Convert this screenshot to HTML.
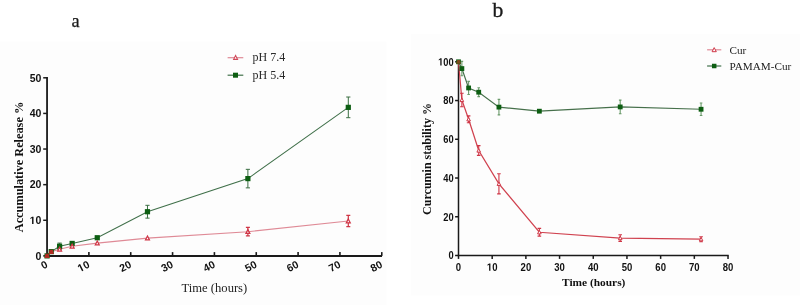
<!DOCTYPE html><html><head><meta charset="utf-8"><style>
html,body{margin:0;padding:0;background:#fff;width:800px;height:305px;overflow:hidden}
svg{display:block;filter:blur(0.3px)}
.s{font-family:"Liberation Sans",sans-serif;font-weight:bold}
.t{font-family:"Liberation Serif",serif}
</style></head><body>
<svg width="800" height="305" viewBox="0 0 800 305">
<rect x="0" y="41.5" width="386.5" height="263.5" fill="#fdfdfd"/>
<rect x="411" y="34" width="389" height="261.6" fill="#fdfdfd"/>
<text class="t" x="71.5" y="26.6" font-size="18.3" fill="#1a1a1a" stroke="#1a1a1a" stroke-width="0.25">a</text>
<text class="t" x="492.6" y="16.6" font-size="21.6" fill="#1a1a1a" stroke="#1a1a1a" stroke-width="0.35">b</text>
<g stroke="#1a1a1a" fill="none">
<line x1="47.05" y1="77.10000000000001" x2="47.05" y2="256.9" stroke-width="1.8"/>
<line x1="46.15" y1="256.0" x2="382.02000000000004" y2="256.0" stroke-width="1.85"/>
<line x1="43.2" y1="255.90" x2="47.05" y2="255.90" stroke-width="1.5"/>
<line x1="43.2" y1="220.28" x2="47.05" y2="220.28" stroke-width="1.5"/>
<line x1="43.2" y1="184.66" x2="47.05" y2="184.66" stroke-width="1.5"/>
<line x1="43.2" y1="149.04" x2="47.05" y2="149.04" stroke-width="1.5"/>
<line x1="43.2" y1="113.42" x2="47.05" y2="113.42" stroke-width="1.5"/>
<line x1="43.2" y1="77.80" x2="47.05" y2="77.80" stroke-width="1.5"/>
<line x1="88.89" y1="252.1" x2="88.89" y2="255.9" stroke-width="1.6"/>
<line x1="130.73" y1="252.1" x2="130.73" y2="255.9" stroke-width="1.6"/>
<line x1="172.57" y1="252.1" x2="172.57" y2="255.9" stroke-width="1.6"/>
<line x1="214.41" y1="252.1" x2="214.41" y2="255.9" stroke-width="1.6"/>
<line x1="256.25" y1="252.1" x2="256.25" y2="255.9" stroke-width="1.6"/>
<line x1="298.09" y1="252.1" x2="298.09" y2="255.9" stroke-width="1.6"/>
<line x1="339.93" y1="252.1" x2="339.93" y2="255.9" stroke-width="1.6"/>
<line x1="381.77" y1="252.1" x2="381.77" y2="255.9" stroke-width="1.6"/>
</g>
<g transform="translate(41.3,259.60)" fill="#111"><text class="s" x="-5.840" y="0" font-size="10.5">0</text></g>
<g transform="translate(41.3,223.98)" fill="#111"><path d="M478,0L478,1170L140,959L140,1180L493,1409L759,1409L759,0Z" transform="translate(-11.679,0) scale(0.00513,-0.00513)"/><text class="s" x="-5.840" y="0" font-size="10.5">0</text></g>
<g transform="translate(41.3,188.36)" fill="#111"><text class="s" x="-11.679" y="0" font-size="10.5">2</text><text class="s" x="-5.840" y="0" font-size="10.5">0</text></g>
<g transform="translate(41.3,152.74)" fill="#111"><text class="s" x="-11.679" y="0" font-size="10.5">3</text><text class="s" x="-5.840" y="0" font-size="10.5">0</text></g>
<g transform="translate(41.3,117.12)" fill="#111"><text class="s" x="-11.679" y="0" font-size="10.5">4</text><text class="s" x="-5.840" y="0" font-size="10.5">0</text></g>
<g transform="translate(41.3,81.50)" fill="#111"><text class="s" x="-11.679" y="0" font-size="10.5">5</text><text class="s" x="-5.840" y="0" font-size="10.5">0</text></g>
<g transform="translate(48.55,266.90) rotate(-27)" fill="#111"><text class="s" x="-5.895" y="0" font-size="10.6">0</text></g>
<g transform="translate(90.39,266.90) rotate(-27)" fill="#111"><path d="M478,0L478,1170L140,959L140,1180L493,1409L759,1409L759,0Z" transform="translate(-11.790,0) scale(0.00518,-0.00518)"/><text class="s" x="-5.895" y="0" font-size="10.6">0</text></g>
<g transform="translate(132.23,266.90) rotate(-27)" fill="#111"><text class="s" x="-11.790" y="0" font-size="10.6">2</text><text class="s" x="-5.895" y="0" font-size="10.6">0</text></g>
<g transform="translate(174.07,266.90) rotate(-27)" fill="#111"><text class="s" x="-11.790" y="0" font-size="10.6">3</text><text class="s" x="-5.895" y="0" font-size="10.6">0</text></g>
<g transform="translate(215.91,266.90) rotate(-27)" fill="#111"><text class="s" x="-11.790" y="0" font-size="10.6">4</text><text class="s" x="-5.895" y="0" font-size="10.6">0</text></g>
<g transform="translate(257.75,266.90) rotate(-27)" fill="#111"><text class="s" x="-11.790" y="0" font-size="10.6">5</text><text class="s" x="-5.895" y="0" font-size="10.6">0</text></g>
<g transform="translate(299.59,266.90) rotate(-27)" fill="#111"><text class="s" x="-11.790" y="0" font-size="10.6">6</text><text class="s" x="-5.895" y="0" font-size="10.6">0</text></g>
<g transform="translate(341.43,266.90) rotate(-27)" fill="#111"><text class="s" x="-11.790" y="0" font-size="10.6">7</text><text class="s" x="-5.895" y="0" font-size="10.6">0</text></g>
<g transform="translate(383.27,266.90) rotate(-27)" fill="#111"><text class="s" x="-11.790" y="0" font-size="10.6">8</text><text class="s" x="-5.895" y="0" font-size="10.6">0</text></g>
<text class="t" x="214.4" y="292.2" font-size="12.6" text-anchor="middle" fill="#222">Time (hours)</text>
<text class="t" font-weight="bold" font-size="12.3" text-anchor="middle" fill="#111" transform="translate(22.6,167) rotate(-90)">Accumulative Release %</text>
<polyline points="47.05,255.90 51.23,251.80 59.60,249.31 72.15,246.28 97.26,243.08 147.47,238.09 247.88,231.68 348.30,220.99" fill="none" stroke="#df8a96" stroke-width="1.1"/>
<polyline points="47.05,255.90 51.23,251.63 59.60,246.28 72.15,243.43 97.26,237.73 147.47,211.73 247.88,178.60 348.30,107.36" fill="none" stroke="#40704a" stroke-width="1.05"/>
<path d="M59.60,243.08V249.49M57.50,243.08H61.70M57.50,249.49H61.70" stroke="#3a6e42" stroke-width="1.0" fill="none"/>
<path d="M147.47,205.32V218.14M145.37,205.32H149.57M145.37,218.14H149.57" stroke="#3a6e42" stroke-width="1.0" fill="none"/>
<path d="M247.88,169.34V187.87M245.78,169.34H249.98M245.78,187.87H249.98" stroke="#3a6e42" stroke-width="1.0" fill="none"/>
<path d="M348.30,97.03V117.69M346.20,97.03H350.40M346.20,117.69H350.40" stroke="#3a6e42" stroke-width="1.0" fill="none"/>
<path d="M247.88,227.40V235.95M245.88,227.40H249.88M245.88,235.95H249.88" stroke="#cf3545" stroke-width="1.2" fill="none"/>
<path d="M348.30,215.29V226.69M346.30,215.29H350.30M346.30,226.69H350.30" stroke="#cf3545" stroke-width="1.2" fill="none"/>
<rect x="44.45" y="253.30" width="5.2" height="5.2" fill="#0d5e12"/>
<rect x="48.63" y="249.03" width="5.2" height="5.2" fill="#0d5e12"/>
<rect x="57.00" y="243.68" width="5.2" height="5.2" fill="#0d5e12"/>
<rect x="69.55" y="240.83" width="5.2" height="5.2" fill="#0d5e12"/>
<rect x="94.66" y="235.13" width="5.2" height="5.2" fill="#0d5e12"/>
<rect x="144.87" y="209.13" width="5.2" height="5.2" fill="#0d5e12"/>
<rect x="245.28" y="176.00" width="5.2" height="5.2" fill="#0d5e12"/>
<rect x="345.70" y="104.76" width="5.2" height="5.2" fill="#0d5e12"/>
<path d="M59.60,247.26L61.55,251.07L57.65,251.07Z" fill="#fff" stroke="#cf3545" stroke-width="1.25"/>
<path d="M72.15,244.23L74.10,248.04L70.20,248.04Z" fill="#fff" stroke="#cf3545" stroke-width="1.25"/>
<path d="M97.26,241.02L99.21,244.83L95.31,244.83Z" fill="#fff" stroke="#cf3545" stroke-width="1.25"/>
<path d="M147.47,236.03L149.42,239.84L145.52,239.84Z" fill="#fff" stroke="#cf3545" stroke-width="1.25"/>
<path d="M247.88,229.62L249.83,233.43L245.93,233.43Z" fill="#fff" stroke="#cf3545" stroke-width="1.25"/>
<path d="M348.30,218.94L350.25,222.75L346.35,222.75Z" fill="#fff" stroke="#cf3545" stroke-width="1.25"/>
<path d="M44.45,258.10L45.45,253.80L48.65,253.80L49.65,258.10Z" fill="#b02a22"/>
<path d="M48.63,254.00L49.63,249.70L52.83,249.70L53.83,254.00Z" fill="#b02a22"/>
<line x1="227.6" y1="57.7" x2="243.3" y2="57.7" stroke="#df8a96" stroke-width="1.2"/>
<path d="M235.60,55.55L237.55,59.36L233.65,59.36Z" fill="#fff" stroke="#d04a5a" stroke-width="1.1"/>
<line x1="227.6" y1="75.2" x2="243.3" y2="75.2" stroke="#40704a" stroke-width="1.2"/>
<rect x="233.00" y="72.70" width="5" height="5" fill="#0d5e12"/>
<text class="t" x="252.5" y="61.1" font-size="12" fill="#2a2a2a">pH 7.4</text>
<text class="t" x="252.5" y="78.6" font-size="12" fill="#2a2a2a">pH 5.4</text>
<g stroke="#1a1a1a" fill="none">
<line x1="458.5" y1="61.29999999999998" x2="458.5" y2="258.9" stroke-width="1.5"/>
<line x1="457.8" y1="255.5" x2="728.72" y2="255.5" stroke-width="1.5"/>
<line x1="455.1" y1="255.50" x2="458.5" y2="255.50" stroke-width="1.5"/>
<line x1="455.1" y1="216.76" x2="458.5" y2="216.76" stroke-width="1.5"/>
<line x1="455.1" y1="178.02" x2="458.5" y2="178.02" stroke-width="1.5"/>
<line x1="455.1" y1="139.28" x2="458.5" y2="139.28" stroke-width="1.5"/>
<line x1="455.1" y1="100.54" x2="458.5" y2="100.54" stroke-width="1.5"/>
<line x1="455.1" y1="61.80" x2="458.5" y2="61.80" stroke-width="1.5"/>
<line x1="492.19" y1="255.5" x2="492.19" y2="258.9" stroke-width="1.5"/>
<line x1="525.88" y1="255.5" x2="525.88" y2="258.9" stroke-width="1.5"/>
<line x1="559.57" y1="255.5" x2="559.57" y2="258.9" stroke-width="1.5"/>
<line x1="593.26" y1="255.5" x2="593.26" y2="258.9" stroke-width="1.5"/>
<line x1="626.95" y1="255.5" x2="626.95" y2="258.9" stroke-width="1.5"/>
<line x1="660.64" y1="255.5" x2="660.64" y2="258.9" stroke-width="1.5"/>
<line x1="694.33" y1="255.5" x2="694.33" y2="258.9" stroke-width="1.5"/>
<line x1="728.02" y1="255.5" x2="728.02" y2="258.9" stroke-width="1.5"/>
</g>
<g transform="translate(453.7,259.25) scale(0.88,1)" fill="#111"><text class="s" x="-5.895" y="0" font-size="10.6">0</text></g>
<g transform="translate(453.7,220.51) scale(0.88,1)" fill="#111"><text class="s" x="-11.790" y="0" font-size="10.6">2</text><text class="s" x="-5.895" y="0" font-size="10.6">0</text></g>
<g transform="translate(453.7,181.77) scale(0.88,1)" fill="#111"><text class="s" x="-11.790" y="0" font-size="10.6">4</text><text class="s" x="-5.895" y="0" font-size="10.6">0</text></g>
<g transform="translate(453.7,143.03) scale(0.88,1)" fill="#111"><text class="s" x="-11.790" y="0" font-size="10.6">6</text><text class="s" x="-5.895" y="0" font-size="10.6">0</text></g>
<g transform="translate(453.7,104.29) scale(0.88,1)" fill="#111"><text class="s" x="-11.790" y="0" font-size="10.6">8</text><text class="s" x="-5.895" y="0" font-size="10.6">0</text></g>
<g transform="translate(453.7,65.55) scale(0.88,1)" fill="#111"><path d="M478,0L478,1170L140,959L140,1180L493,1409L759,1409L759,0Z" transform="translate(-17.686,0) scale(0.00518,-0.00518)"/><text class="s" x="-11.790" y="0" font-size="10.6">0</text><text class="s" x="-5.895" y="0" font-size="10.6">0</text></g>
<g transform="translate(458.50,270.7) scale(0.9,1)" fill="#111"><text class="s" x="-2.948" y="0" font-size="10.6">0</text></g>
<g transform="translate(492.19,270.7) scale(0.9,1)" fill="#111"><path d="M478,0L478,1170L140,959L140,1180L493,1409L759,1409L759,0Z" transform="translate(-5.895,0) scale(0.00518,-0.00518)"/><text class="s" x="0.000" y="0" font-size="10.6">0</text></g>
<g transform="translate(525.88,270.7) scale(0.9,1)" fill="#111"><text class="s" x="-5.895" y="0" font-size="10.6">2</text><text class="s" x="0.000" y="0" font-size="10.6">0</text></g>
<g transform="translate(559.57,270.7) scale(0.9,1)" fill="#111"><text class="s" x="-5.895" y="0" font-size="10.6">3</text><text class="s" x="0.000" y="0" font-size="10.6">0</text></g>
<g transform="translate(593.26,270.7) scale(0.9,1)" fill="#111"><text class="s" x="-5.895" y="0" font-size="10.6">4</text><text class="s" x="0.000" y="0" font-size="10.6">0</text></g>
<g transform="translate(626.95,270.7) scale(0.9,1)" fill="#111"><text class="s" x="-5.895" y="0" font-size="10.6">5</text><text class="s" x="0.000" y="0" font-size="10.6">0</text></g>
<g transform="translate(660.64,270.7) scale(0.9,1)" fill="#111"><text class="s" x="-5.895" y="0" font-size="10.6">6</text><text class="s" x="0.000" y="0" font-size="10.6">0</text></g>
<g transform="translate(694.33,270.7) scale(0.9,1)" fill="#111"><text class="s" x="-5.895" y="0" font-size="10.6">7</text><text class="s" x="0.000" y="0" font-size="10.6">0</text></g>
<g transform="translate(728.02,270.7) scale(0.9,1)" fill="#111"><text class="s" x="-5.895" y="0" font-size="10.6">8</text><text class="s" x="0.000" y="0" font-size="10.6">0</text></g>
<text class="t" font-weight="bold" x="593.7" y="286.4" font-size="11.4" text-anchor="middle" fill="#111">Time (hours)</text>
<text class="t" font-weight="bold" font-size="12" text-anchor="middle" fill="#111" transform="translate(431.3,159) rotate(-90)">Curcumin stability %</text>
<polyline points="458.50,61.80 461.87,99.96 468.61,119.33 478.71,150.51 498.93,183.83 539.36,232.26 620.21,238.07 701.07,239.23" fill="none" stroke="#d0424f" stroke-width="1.25"/>
<polyline points="458.50,61.80 461.87,68.58 468.61,87.95 478.71,92.21 498.93,107.13 539.36,111.19 620.21,106.93 701.07,109.26" fill="none" stroke="#46704b" stroke-width="1.15"/>
<path d="M461.87,61.41V75.75M460.57,61.41H463.17M460.57,75.75H463.17" stroke="#6a9a6a" stroke-width="1.1" fill="none"/>
<path d="M468.61,81.36V94.54M467.31,81.36H469.91M467.31,94.54H469.91" stroke="#6a9a6a" stroke-width="1.1" fill="none"/>
<path d="M478.71,87.76V96.67M477.41,87.76H480.01M477.41,96.67H480.01" stroke="#6a9a6a" stroke-width="1.1" fill="none"/>
<path d="M498.93,99.38V114.87M497.63,99.38H500.23M497.63,114.87H500.23" stroke="#6a9a6a" stroke-width="1.1" fill="none"/>
<path d="M539.36,110.03V112.36M538.06,110.03H540.66M538.06,112.36H540.66" stroke="#6a9a6a" stroke-width="1.1" fill="none"/>
<path d="M620.21,100.15V113.71M618.91,100.15H621.51M618.91,113.71H621.51" stroke="#6a9a6a" stroke-width="1.1" fill="none"/>
<path d="M701.07,103.06V115.45M699.77,103.06H702.37M699.77,115.45H702.37" stroke="#6a9a6a" stroke-width="1.1" fill="none"/>
<path d="M461.87,93.18V106.74M460.07,93.18H463.67M460.07,106.74H463.67" stroke="#cf3545" stroke-width="1.1" fill="none"/>
<path d="M468.61,115.84V122.82M466.81,115.84H470.41M466.81,122.82H470.41" stroke="#cf3545" stroke-width="1.1" fill="none"/>
<path d="M478.71,145.67V155.36M476.91,145.67H480.51M476.91,155.36H480.51" stroke="#cf3545" stroke-width="1.1" fill="none"/>
<path d="M498.93,173.76V193.90M497.13,173.76H500.73M497.13,193.90H500.73" stroke="#cf3545" stroke-width="1.1" fill="none"/>
<path d="M539.36,228.38V236.13M537.56,228.38H541.16M537.56,236.13H541.16" stroke="#cf3545" stroke-width="1.1" fill="none"/>
<path d="M620.21,234.77V241.36M618.41,234.77H622.01M618.41,241.36H622.01" stroke="#cf3545" stroke-width="1.1" fill="none"/>
<path d="M701.07,236.71V241.75M699.27,236.71H702.87M699.27,241.75H702.87" stroke="#cf3545" stroke-width="1.1" fill="none"/>
<rect x="456.10" y="59.40" width="4.8" height="4.8" fill="#0d5e12"/>
<rect x="459.47" y="66.18" width="4.8" height="4.8" fill="#0d5e12"/>
<rect x="466.21" y="85.55" width="4.8" height="4.8" fill="#0d5e12"/>
<rect x="476.31" y="89.81" width="4.8" height="4.8" fill="#0d5e12"/>
<rect x="496.53" y="104.73" width="4.8" height="4.8" fill="#0d5e12"/>
<rect x="536.96" y="108.79" width="4.8" height="4.8" fill="#0d5e12"/>
<rect x="617.81" y="104.53" width="4.8" height="4.8" fill="#0d5e12"/>
<rect x="698.67" y="106.86" width="4.8" height="4.8" fill="#0d5e12"/>
<path d="M461.87,98.04L463.67,101.58L460.07,101.58Z" fill="#fff" stroke="#cf3545" stroke-width="1.0"/>
<path d="M468.61,117.41L470.41,120.95L466.81,120.95Z" fill="#fff" stroke="#cf3545" stroke-width="1.0"/>
<path d="M478.71,148.59L480.51,152.13L476.91,152.13Z" fill="#fff" stroke="#cf3545" stroke-width="1.0"/>
<path d="M498.93,181.91L500.73,185.45L497.13,185.45Z" fill="#fff" stroke="#cf3545" stroke-width="1.0"/>
<path d="M539.36,230.34L541.16,233.88L537.56,233.88Z" fill="#fff" stroke="#cf3545" stroke-width="1.0"/>
<path d="M620.21,236.15L622.01,239.69L618.41,239.69Z" fill="#fff" stroke="#cf3545" stroke-width="1.0"/>
<path d="M701.07,237.31L702.87,240.85L699.27,240.85Z" fill="#fff" stroke="#cf3545" stroke-width="1.0"/>
<path d="M456.10,63.70L457.10,60.00L459.90,60.00L460.90,63.70Z" fill="#7a4a1c"/>
<line x1="707.1" y1="49.8" x2="721.3" y2="49.8" stroke="#df8a96" stroke-width="1.2"/>
<path d="M714.20,47.61L716.30,51.69L712.10,51.69Z" fill="#fff" stroke="#cf3545" stroke-width="1.0"/>
<line x1="707.1" y1="66" x2="721.3" y2="66" stroke="#40704a" stroke-width="1.2"/>
<rect x="711.95" y="63.75" width="4.5" height="4.5" fill="#0d5e12"/>
<text class="t" x="729.5" y="54" font-size="11.2" fill="#1c1c1c">Cur</text>
<text class="t" x="729.5" y="69.5" font-size="11.2" fill="#1c1c1c">PAMAM-Cur</text>
</svg></body></html>
